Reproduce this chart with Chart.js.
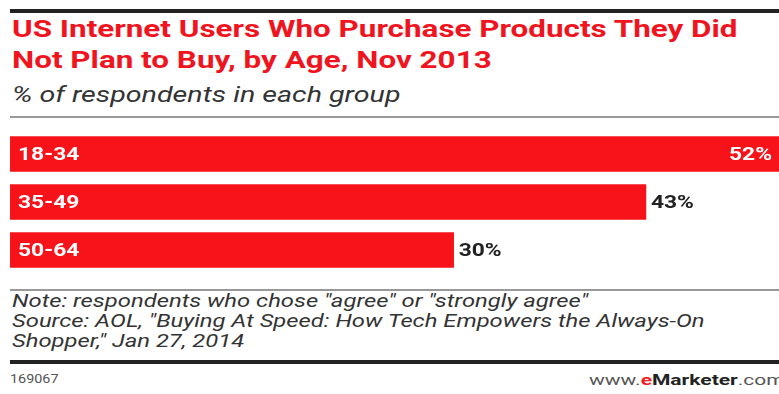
<!DOCTYPE html>
<html>
<head>
<meta charset="utf-8">
<script src="https://cdn.jsdelivr.net/npm/chart.js@4.4.1/dist/chart.umd.min.js"></script>
<style>
  body { margin: 0; width: 779px; height: 394px; background: #fff; position: relative; overflow: hidden; font-family: Roboto, Arial, sans-serif; }
  .rule { position: absolute; left: 10px; right: 0; }
  .fit { position: absolute; white-space: nowrap; display: inline-block; transform-origin: 0 0; }
  #title { left: 12px; top: 14px; color: #f0141e; font-weight: bold; font-size: 24px; line-height: 31px; }
  #subtitle { left: 12px; top: 82px; color: #333; font-style: italic; font-size: 22px; }
  #notes { left: 12px; top: 291px; color: #333; font-style: italic; font-size: 18px; line-height: 20px; }
  #chartBox { position: absolute; left: 10px; top: 130px; width: 769px; height: 144px; }
  #id { left: 10px; top: 372px; color: #555; font-size: 12px; }
  #brand { left: 589px; top: 371px; color: #555; font-size: 15px; }
</style>
</head>
<body>
<div class="rule" style="top:9px;height:4px;background:#222;"></div>
<div id="title" class="fit" data-w="725">US Internet Users Who Purchase Products They Did<br>Not Plan to Buy, by Age, Nov 2013</div>
<div id="subtitle" class="fit" data-w="388">% of respondents in each group</div>
<div class="rule" style="top:116px;height:2px;background:#999;"></div>
<div id="chartBox"><canvas id="chartBars"></canvas></div>
<div class="rule" style="top:289px;height:2px;background:#999;"></div>
<div id="notes" class="fit" data-w="693">Note: respondents who chose "agree" or "strongly agree"<br>Source: AOL, "Buying At Speed: How Tech Empowers the Always-On<br>Shopper," Jan 27, 2014</div>
<div class="rule" style="top:360px;height:4px;background:#222;"></div>
<div id="id" class="fit" data-w="48">169067</div>
<div id="brand" class="fit" data-w="196">www.<b style="color:#ee1c24">e</b><b style="color:#222">Marketer</b>.com</div>
<script>
const ageGroups = ['18-34', '35-49', '50-64'];
const shares = [52, 43, 30];

// the source image is stretched sideways, so text is widened to match
document.querySelectorAll('.fit').forEach(el => {
  el.style.transform = 'scaleX(' + (el.dataset.w / el.offsetWidth) + ')';
});

const stretch = 1.2;

// draws the age label inside each bar and the % at its end
const barLabels = {
  id: 'barLabels',
  afterDatasetsDraw(chart) {
    const ctx = chart.ctx;
    const meta = chart.getDatasetMeta(0);
    const put = (txt, x, y, align, color) => {
      ctx.save();
      ctx.translate(x, y);
      ctx.scale(stretch, 1);
      ctx.fillStyle = color;
      ctx.textAlign = align;
      ctx.fillText(txt, 0, 0);
      ctx.restore();
    };
    ctx.save();
    ctx.font = 'bold 19px Roboto, Arial, sans-serif';
    ctx.textBaseline = 'middle';
    meta.data.forEach((bar, i) => {
      put(ageGroups[i], bar.base + 8, bar.y + 1, 'left', '#fff');
      const txt = shares[i] + '%';
      if (shares[i] >= chart.scales.x.max) {
        put(txt, bar.x - 7, bar.y + 1, 'right', '#fff');
      } else {
        put(txt, bar.x + 5, bar.y + 1, 'left', '#222');
      }
    });
    ctx.restore();
  }
};

new Chart(document.getElementById('chartBars').getContext('2d'), {
  type: 'bar',
  data: {
    labels: ageGroups,
    datasets: [{
      data: shares,
      backgroundColor: '#f8131b',
      barThickness: 35
    }]
  },
  options: {
    indexAxis: 'y',
    responsive: true,
    maintainAspectRatio: false,
    animation: false,
    layout: { padding: 0 },
    plugins: { legend: { display: false }, tooltip: { enabled: false } },
    scales: {
      x: { min: 0, max: 52, display: false },
      y: { display: false }
    }
  },
  plugins: [barLabels]
});
</script>
</body>
</html>
